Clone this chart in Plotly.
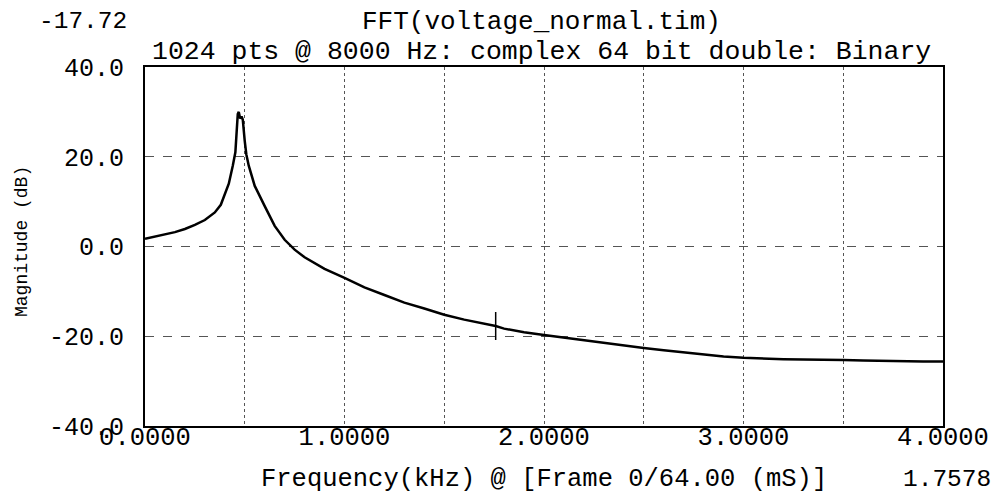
import plotly.graph_objects as go

# ---- data ----
freq_khz = [0.0, 0.05, 0.1, 0.15, 0.2, 0.25, 0.3, 0.35, 0.38, 0.40, 0.42, 0.44,
            0.453, 0.46, 0.465, 0.47, 0.477, 0.484, 0.49, 0.5, 0.508, 0.52, 0.55,
            0.6, 0.65, 0.7, 0.75, 0.8, 0.9, 1.0, 1.1, 1.2, 1.3, 1.4, 1.5, 1.6,
            1.7, 1.7578, 1.8, 1.9, 2.0, 2.1, 2.2, 2.3, 2.4, 2.5, 2.6, 2.7, 2.8,
            2.9, 3.0, 3.1, 3.2, 3.3, 3.4, 3.5, 3.6, 3.7, 3.8, 3.9, 4.0]
magnitude_db = [1.7, 2.2, 2.7, 3.2, 3.9, 4.8, 5.9, 7.6, 9.3, 11.5, 14.0, 18.0,
                21.0, 26.0, 29.5, 30.0, 28.5, 29.0, 28.3, 23.5, 20.5, 18.0, 13.5,
                9.0, 4.6, 1.5, -0.7, -2.4, -5.0, -7.0, -9.1, -10.8, -12.5, -13.8, -15.2, -16.3,
                -17.2, -17.72, -18.3, -19.1, -19.7, -20.3, -20.8, -21.4, -22.0, -22.6, -23.1, -23.6, -24.0,
                -24.5, -24.8, -25.0, -25.1, -25.2, -25.2, -25.3, -25.4, -25.5, -25.5, -25.6, -25.6]

cursor_freq = [1.7578]
cursor_db = [-17.72]

x_tickvals = [0, 0.5, 1, 1.5, 2, 2.5, 3, 3.5, 4]
x_ticktext = ["0.0000", "", "1.0000", "", "2.0000", "", "3.0000", "", "4.0000"]
y_tickvals = [-40, -20, 0, 20, 40]
y_ticktext = ["-40.0", "-20.0", "0.0", "20.0", "40.0"]

title_text = "FFT(voltage_normal.tim)"
subtitle_text = "1024 pts @ 8000 Hz: complex 64 bit double: Binary"
xlabel_text = "Frequency(kHz) @ [Frame 0/64.00 (mS)]"
ylabel_text = "Magnitude (dB)"
cursor_y_text = "-17.72"
cursor_x_text = "1.7578"

MONO = "Liberation Mono"

fig = go.Figure()
fig.add_trace(go.Scatter(x=freq_khz, y=magnitude_db, mode="lines",
                         line=dict(color="black", width=2.5), showlegend=False))
fig.add_trace(go.Scatter(x=cursor_freq, y=cursor_db, mode="markers",
                         marker=dict(symbol="line-ns", size=20,
                                     line=dict(color="black", width=1.5)),
                         showlegend=False))

# page body has an 8px margin; lay out in reference-window pixels
OFF = 8
W, H = 999 - OFF, 495 - OFF
PL, PR, PT, PB = 145, 943, 67, 426          # plot box in reference pixels
L, T = PL - OFF, PT - OFF
R, B = W - (PR - OFF), H - (PB - OFF)
pw, ph = W - L - R, H - T - B

def px(x):
    return (x - PL) / pw

def py(y):
    return (PB - y) / ph

fig.update_layout(
    width=W, height=H,
    margin=dict(l=L, r=R, t=T, b=B, pad=0, autoexpand=False),
    paper_bgcolor="white", plot_bgcolor="white",
    font=dict(family=MONO, color="black", size=25),
    xaxis=dict(range=[0, 4], tickvals=x_tickvals, ticktext=x_ticktext,
               showgrid=True, gridcolor="#555", griddash="dot", gridwidth=1,
               showline=True, linecolor="black", linewidth=2, mirror=True,
               zeroline=False, ticks="", automargin=False, ticklabelstandoff=-14,
               tickfont=dict(size=25.5, family=MONO)),
    yaxis=dict(range=[-40, 40], tickvals=y_tickvals, ticktext=y_ticktext,
               showgrid=True, gridcolor="#555", griddash="dash", gridwidth=1,
               showline=True, linecolor="black", linewidth=2, mirror=True,
               zeroline=False, ticks="", ticklabelstandoff=14, automargin=False,
               tickfont=dict(size=25, family=MONO)),
    annotations=[
        dict(text=title_text, xref="paper", yref="paper", x=px(541), y=py(22),
             xanchor="center", yanchor="middle", showarrow=False,
             font=dict(size=26, family=MONO)),
        dict(text=subtitle_text, xref="paper", yref="paper", x=px(541), y=py(52),
             xanchor="center", yanchor="middle", showarrow=False,
             font=dict(size=26.5, family=MONO)),
        dict(text=cursor_y_text, xref="paper", yref="paper", x=px(129), y=py(22),
             xanchor="right", yanchor="middle", showarrow=False,
             font=dict(size=24.5, family=MONO)),
        dict(text=xlabel_text, xref="paper", yref="paper", x=px(544), y=py(479),
             xanchor="center", yanchor="middle", showarrow=False,
             font=dict(size=25.5, family=MONO)),
        dict(text=cursor_x_text, xref="paper", yref="paper", x=px(993), y=py(479),
             xanchor="right", yanchor="middle", showarrow=False,
             font=dict(size=24.5, family=MONO)),
        dict(text=ylabel_text, xref="paper", yref="paper", x=px(22), y=py(242),
             xanchor="center", yanchor="middle", showarrow=False, textangle=-90,
             font=dict(size=18, family=MONO)),
    ],
)

fig.write_html("out.html")
